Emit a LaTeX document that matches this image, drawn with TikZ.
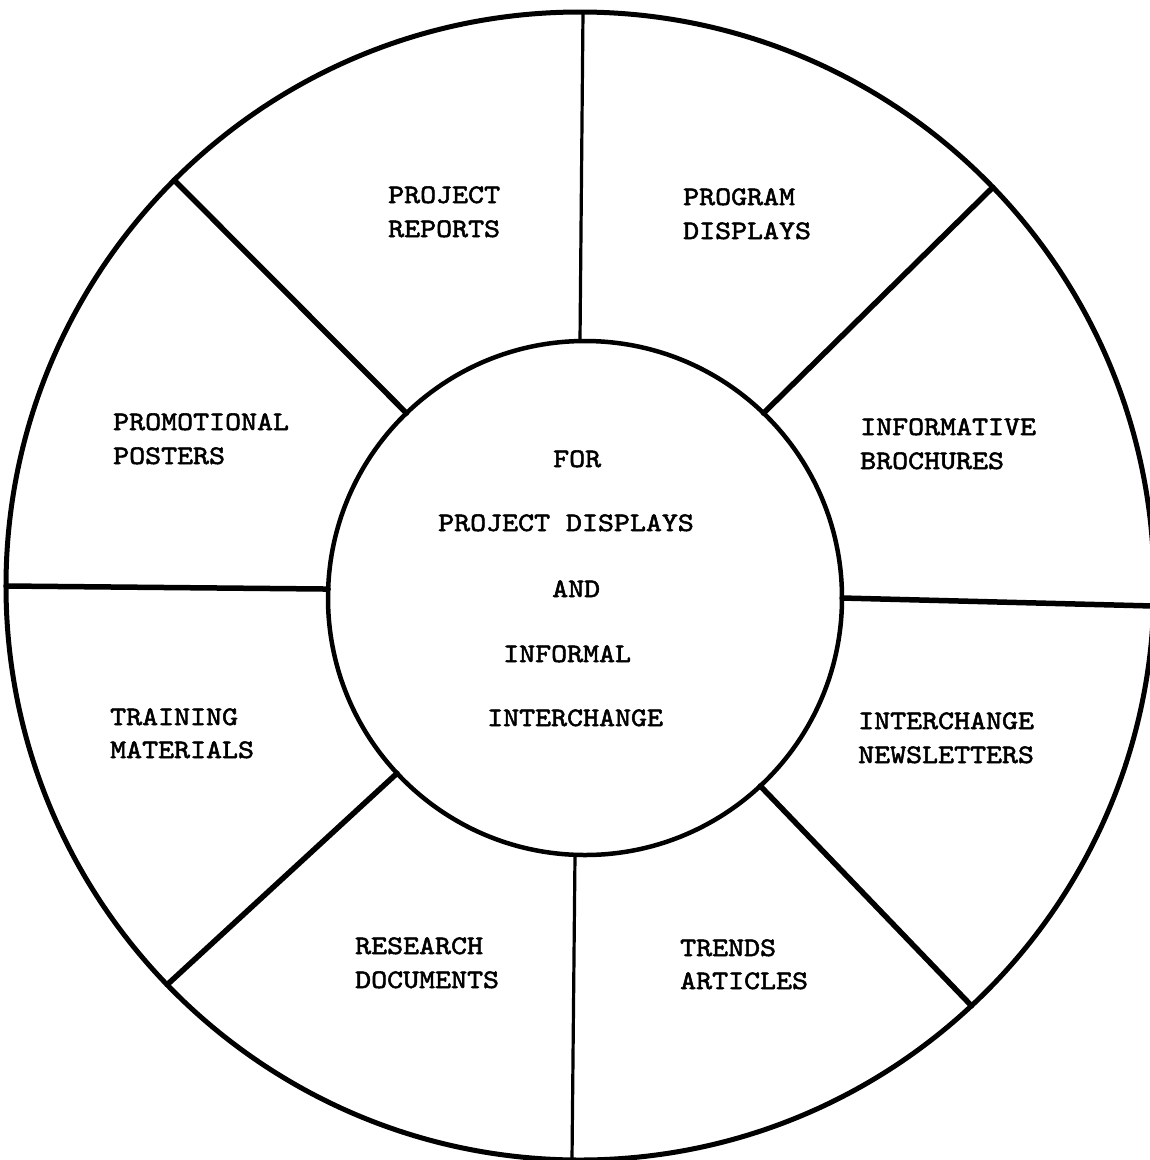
\documentclass[tikz,border=0pt]{standalone}
\usepackage{fontspec}
\newfontfamily\tw{lmmono10-regular.otf}[FakeStretch=1.14,FakeBold=2]
\begin{document}
\begin{tikzpicture}[x=1pt,y=-1pt,
  ring/.style={draw=black,circle,inner sep=0pt,outer sep=0pt},
  spoke/.style={draw=black,line width=5.5pt,line cap=round},
  thinspoke/.style={draw=black,line width=3.2pt,line cap=round},
  lab/.style={anchor=base west,inner sep=0pt,font=\tw\fontsize{26.7}{34}\selectfont}]
\useasboundingbox (0,0) rectangle (1150,1160);
\fill[white] (0,0) rectangle (1150,1160);
% circles
\node[ring,line width=5pt,minimum size=1148pt] (outer) at (580,586) {};
\node[ring,line width=4.5pt,minimum size=514pt] (inner) at (585,598) {};
\coordinate (otop) at (583,12);
\coordinate (obot) at (572,1160);
\coordinate (itop) at (580,341);
\coordinate (ibot) at (575,855);
% spokes
\draw[thinspoke] (otop) -- (itop);
\draw[thinspoke] (ibot) -- (obot);
\draw[spoke] (outer.180.2) -- (inner.178.9);
\draw[spoke] (inner.0.2) -- (outer.358.3);
\draw[spoke] (outer.135) -- (inner.134);
\draw[spoke] (outer.44.2) -- (inner.46.2);
\draw[spoke] (outer.224.7) -- (inner.223);
\draw[spoke] (outer.313.9) -- (inner.313.2);
% segment labels
\node[lab] (rep1) at (388,203) {PROJECT};
\node[lab] (rep2) at (388,237) {REPORTS};
\node[lab] (prg1) at (683,205) {PROGRAM};
\node[lab] (prg2) at (683,239) {DISPLAYS};
\node[lab] (pro1) at (113,430) {PROMOTIONAL};
\node[lab] (pro2) at (113,464) {POSTERS};
\node[lab] (inf1) at (860,435) {INFORMATIVE};
\node[lab] (inf2) at (860,469) {BROCHURES};
\node[lab] (trn1) at (110,725) {TRAINING};
\node[lab] (trn2) at (110,758) {MATERIALS};
\node[lab] (int1) at (858,729) {INTERCHANGE};
\node[lab] (int2) at (858,763) {NEWSLETTERS};
\node[lab] (res1) at (355,954) {RESEARCH};
\node[lab] (res2) at (355,988) {DOCUMENTS};
\node[lab] (trd1) at (680,956) {TRENDS};
\node[lab] (trd2) at (680,989) {ARTICLES};
% centre text
\node[lab] (c1) at (553,467) {FOR};
\node[lab] (c2) at (438,531) {PROJECT DISPLAYS};
\node[lab] (c3) at (552,597) {AND};
\node[lab] (c4) at (503,662) {INFORMAL};
\node[lab] (c5) at (487,726) {INTERCHANGE};
\end{tikzpicture}
\end{document}
